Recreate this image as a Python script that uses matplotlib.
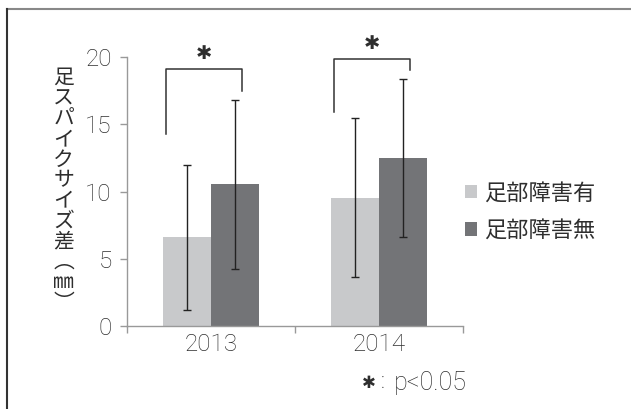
import matplotlib
matplotlib.use('Agg')
import numpy as np
from matplotlib import pyplot as plt
from matplotlib.lines import Line2D

plt.rcParams['font.family'] = ['Noto Sans CJK JP', 'DejaVu Sans']

# Foot spike size difference (mm), mean and SD per year
years = ['2013', '2014']
labels = ['足部障害有', '足部障害無']
means_with = [6.6, 9.55]
sd_with = [5.4, 5.9]
means_without = [10.55, 12.5]
sd_without = [6.3, 5.85]
# significance brackets: (left leg bottom, bar top, right leg bottom)
brackets = [(14.3, 19.1, 17.5), (15.95, 19.85, 19.05)]

light = '#c8c9cb'
dark = '#737477'
text_color = '#2e2e2e'
num_font = dict(family=['Roboto', 'DejaVu Sans'], weight='light')

fig = plt.figure(figsize=(6.31, 4.09), dpi=100)
ax = fig.add_axes([0.2013, 0.2029, 0.5320, 0.6571])

x = np.arange(len(years))
w = 0.286
err_kw = dict(ecolor='#222222', elinewidth=1.0, capsize=3, capthick=1.0)
ax.bar(x - w / 2, means_with, w, yerr=sd_with, color=light, label=labels[0], error_kw=err_kw, zorder=2)
ax.bar(x + w / 2, means_without, w, yerr=sd_without, color=dark, label=labels[1], error_kw=err_kw, zorder=2)

# Brackets with stars
for i, (lo_l, top, lo_r) in enumerate(brackets):
    xl = x[i] - w * 0.93
    xr = x[i] + w * 0.64
    ax.plot([xl, xl, xr, xr], [lo_l, top, top, lo_r], color='#333333', lw=1.1, clip_on=False, zorder=3)
    ax.text((xl + xr) / 2, top + 0.5, '✱', ha='center', va='bottom', fontsize=14,
            family='DejaVu Sans', color=text_color, clip_on=False)

ax.set_xlim(-0.5, 1.5)
ax.set_ylim(0, 20)
ax.set_yticks([0, 5, 10, 15, 20])
ax.set_xticks([-0.5, 0.5, 1.5])
ax.set_xticklabels([])
ax.set_xticks(x, minor=True)
ax.set_xticklabels(years, minor=True)
ax.tick_params(axis='x', which='minor', length=0, pad=5, labelcolor=text_color)
ax.tick_params(axis='x', which='major', length=5, color='#999999', width=1)
ax.tick_params(axis='y', length=5, color='#999999', width=1, pad=6, labelcolor=text_color)
for lab in ax.get_yticklabels() + ax.get_xticklabels(minor=True):
    lab.set_fontproperties(dict(num_font, size=17.5))
for side in ['top', 'right']:
    ax.spines[side].set_visible(False)
for side in ['left', 'bottom']:
    ax.spines[side].set_color('#999999')
    ax.spines[side].set_linewidth(1)

# vertical axis title, one character per line
ylabel = '足スパイクサイズ差︵㎜︶'
fig.text(0.101, 0.535, '\n'.join(ylabel), ha='center', va='center', fontsize=15,
         color=text_color, linespacing=0.91)

ax.legend(loc='center left', bbox_to_anchor=(0.737, 0.483), bbox_transform=fig.transFigure,
          frameon=False, fontsize=16, handlelength=0.55, handleheight=0.55, handletextpad=0.3,
          labelspacing=0.65, borderpad=0, borderaxespad=0, labelcolor=text_color)

# significance note
fig.text(0.585, 0.063, '✱', ha='center', va='center', fontsize=12, family='DejaVu Sans', color=text_color)
fig.text(0.607, 0.066, ':', ha='center', va='center', color=text_color, **dict(num_font, size=16))
fig.text(0.624, 0.063, 'p<0.05', ha='left', va='center', color=text_color, **dict(num_font, size=18))

# outer frame: top and left edges only
fig.add_artist(Line2D([0.011, 1.0], [0.978, 0.978], color='#888888', lw=1.5))
fig.add_artist(Line2D([0.011, 0.011], [0.0, 0.978], color='#333333', lw=1.5))

fig.savefig('out.png', dpi=100)
